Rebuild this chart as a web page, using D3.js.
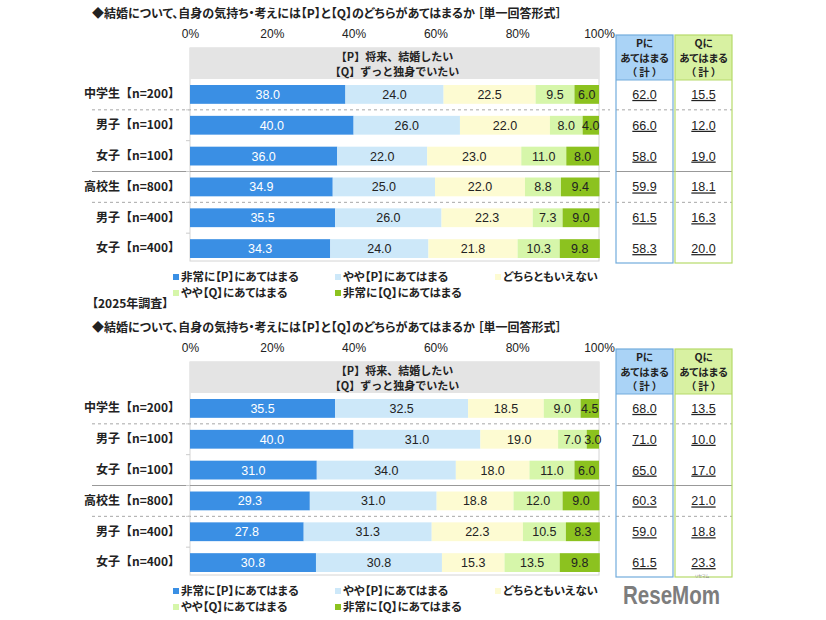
<!DOCTYPE html>
<html lang='ja'>
  <head>
    <meta charset='utf-8'>
    <style type='text/css'>
      body { margin: 0; background-color: #fff; }
      #chart { width: 826px; height: 620px; }
      text { font-family: 'Noto Sans CJK JP', sans-serif; font-feature-settings: "palt"; }
      text.wide { font-feature-settings: normal; }
      .num { font-family: 'Liberation Sans', Arial, sans-serif; }
    </style>
  </head>
  <body>
    <div id='chart'><svg width='826' height='620'></svg></div>

    <script src='https://d3js.org/d3.v7.min.js'></script>
    <script type='text/javascript'>
        // ---- data ----
        var categories = ["中学生【n=200】", "男子【n=100】", "女子【n=100】", "高校生【n=800】", "男子【n=400】", "女子【n=400】"];
        var seriesNames = ["非常に【P】にあてはまる", "やや【P】にあてはまる", "どちらともいえない", "やや【Q】にあてはまる", "非常に【Q】にあてはまる"];
        var ticks = [0, 20, 40, 60, 80, 100];

        // upper chart (previous survey)
        var prevVeryP     = [38.0, 40.0, 36.0, 34.9, 35.5, 34.3];
        var prevSomewhatP = [24.0, 26.0, 22.0, 25.0, 26.0, 24.0];
        var prevNeither   = [22.5, 22.0, 23.0, 22.0, 22.3, 21.8];
        var prevSomewhatQ = [9.5, 8.0, 11.0, 8.8, 7.3, 10.3];
        var prevVeryQ     = [6.0, 4.0, 8.0, 9.4, 9.0, 9.8];
        var prevPTotal    = [62.0, 66.0, 58.0, 59.9, 61.5, 58.3];
        var prevQTotal    = [15.5, 12.0, 19.0, 18.1, 16.3, 20.0];

        // lower chart (2025 survey)
        var veryP     = [35.5, 40.0, 31.0, 29.3, 27.8, 30.8];
        var somewhatP = [32.5, 31.0, 34.0, 31.0, 31.3, 30.8];
        var neither   = [18.5, 19.0, 18.0, 18.8, 22.3, 15.3];
        var somewhatQ = [9.0, 7.0, 11.0, 12.0, 10.5, 13.5];
        var veryQ     = [4.5, 3.0, 6.0, 9.0, 8.3, 9.8];
        var pTotal    = [68.0, 71.0, 65.0, 60.3, 59.0, 61.5];
        var qTotal    = [13.5, 10.0, 17.0, 21.0, 18.8, 23.3];

        var colors = ["#3a8fe4", "#cde8f9", "#fdfbd2", "#d6f6aa", "#8cc21f"];
        var textColors = ["#fff", "#222", "#222", "#222", "#222"];

        var svg = d3.select("#chart svg");

        var x = d3.scaleLinear().domain([0, 100]).range([190, 599]);

        function drawPanel(off, rows, pTot, qTot) {
            var g = svg.append("g").attr("transform", "translate(0," + off + ")");

            // title
            g.append("text").attr("x", 92).attr("y", 18)
                .attr("font-size", 12).attr("font-weight", "bold").attr("fill", "#222")
                .text("◆結婚について、自身の気持ち・考えには【P】と【Q】のどちらがあてはまるか ［単一回答形式］");

            var y = d3.scaleBand().domain(categories).range([79, 264])
                .paddingInner(0.39).paddingOuter(0.195);

            // frame and header
            g.append("rect").attr("x", x(0)).attr("y", 48).attr("width", x(100) - x(0)).attr("height", 213)
                .attr("fill", "#fff").attr("stroke", "#d4d4d4");
            g.append("rect").attr("x", x(0)).attr("y", 48).attr("width", x(100) - x(0)).attr("height", 31)
                .attr("fill", "#e4e4e4");
            g.append("text").attr("class", "wide").attr("x", (x(0) + x(100)) / 2).attr("y", 61).attr("text-anchor", "middle")
                .attr("font-size", 11).attr("font-weight", "bold").attr("fill", "#222").text("【P】将来、結婚したい");
            g.append("text").attr("class", "wide").attr("x", (x(0) + x(100)) / 2).attr("y", 76).attr("text-anchor", "middle")
                .attr("font-size", 11).attr("font-weight", "bold").attr("fill", "#222").text("【Q】ずっと独身でいたい");

            // percent axis
            var ax = g.append("g").attr("transform", "translate(0,30)")
                .call(d3.axisTop(x).tickValues(ticks).tickSize(0).tickPadding(0).tickFormat(function(d) { return d + "%"; }));
            ax.select(".domain").remove();
            ax.selectAll("text").attr("class", "num").attr("font-size", 12).attr("fill", "#222").attr("dy", "0.7em");

            // category axis
            var ay = g.append("g").attr("transform", "translate(" + x(0) + ",0)")
                .call(d3.axisLeft(y).tickSize(0).tickPadding(10));
            ay.select(".domain").remove();
            ay.selectAll("text").attr("class", "wide").attr("font-size", 12).attr("font-weight", "bold").attr("fill", "#222")
                .style("font-family", "'Noto Sans CJK JP', sans-serif");

            // separators
            var step = y.step();
            var seps = [
                {y: y(categories[1]) - (step - y.bandwidth()) / 2, dash: "3,3"},
                {y: y(categories[3]) - (step - y.bandwidth()) / 2, dash: null},
                {y: y(categories[4]) - (step - y.bandwidth()) / 2, dash: "3,3"}
            ];
            seps.forEach(function(s) {
                [[92, 610], [616, 732]].forEach(function(r) {
                    g.append("line").attr("x1", r[0]).attr("x2", r[1]).attr("y1", s.y).attr("y2", s.y)
                        .attr("stroke", s.dash ? "#a8a8a8" : "#999").attr("stroke-dasharray", s.dash);
                });
            });
            // small ticks on the left of the frame
            categories.slice(1).forEach(function(c) {
                var ty = y(c) - (step - y.bandwidth()) / 2;
                g.append("line").attr("x1", x(0) - 4).attr("x2", x(0)).attr("y1", ty).attr("y2", ty).attr("stroke", "#ccc");
            });

            // stacked bars
            var table = categories.map(function(c, i) {
                var o = {cat: c};
                rows.forEach(function(r, k) { o["s" + k] = r[i]; });
                return o;
            });
            var stack = d3.stack().keys(rows.map(function(r, k) { return "s" + k; }));
            var layers = stack(table);

            var lg = g.selectAll(".layer").data(layers).enter().append("g").attr("class", "layer");
            lg.selectAll("rect").data(function(d) { return d; }).enter().append("rect")
                .attr("x", function(d) { return x(d[0]); })
                .attr("y", function(d) { return y(d.data.cat); })
                .attr("width", function(d) { return x(d[1]) - x(d[0]); })
                .attr("height", y.bandwidth())
                .attr("fill", function(d, i, n) { return colors[d3.select(n[i].parentNode).datum().index]; });
            lg.selectAll("text").data(function(d) { return d.map(function(v) { v.k = d.index; return v; }); })
                .enter().append("text")
                .attr("class", "num")
                .attr("x", function(d) { return (x(d[0]) + x(d[1])) / 2; })
                .attr("y", function(d) { return y(d.data.cat) + y.bandwidth() / 2; })
                .attr("dy", "0.36em").attr("text-anchor", "middle").attr("font-size", 12.5)
                .attr("fill", function(d) { return textColors[d.k]; })
                .text(function(d) { return d3.format(".1f")(d[1] - d[0]); });

            // total boxes
            var boxes = [
                {x: 616, vals: pTot, head: "Pに", fill: "#aad3f6", stroke: "#72acdc"},
                {x: 675, vals: qTot, head: "Qに", fill: "#d8f1a2", stroke: "#b6da6a"}
            ];
            boxes.forEach(function(b) {
                g.append("rect").attr("x", b.x).attr("y", 35).attr("width", 57).attr("height", 45)
                    .attr("fill", b.fill);
                g.append("rect").attr("x", b.x).attr("y", 35).attr("width", 57).attr("height", 228)
                    .attr("fill", "none").attr("stroke", b.stroke).attr("stroke-width", 1.2);
                g.append("line").attr("x1", b.x).attr("x2", b.x + 57).attr("y1", 80).attr("y2", 80)
                    .attr("stroke", b.stroke).attr("stroke-width", 1.2);
                var cx = b.x + 28.5;
                [[b.head, 47], ["あてはまる", 62], ["（ 計 ）", 76]].forEach(function(t) {
                    g.append("text").attr("x", cx).attr("y", t[1]).attr("text-anchor", "middle")
                        .attr("font-size", 10.5).attr("font-weight", "bold").attr("fill", "#222").text(t[0]);
                });
                b.vals.forEach(function(v, i) {
                    g.append("text").attr("class", "num").attr("x", cx)
                        .attr("y", y(categories[i]) + y.bandwidth() / 2).attr("dy", "0.36em")
                        .attr("text-anchor", "middle").attr("font-size", 12.5).attr("fill", "#222")
                        .attr("text-decoration", "underline").text(d3.format(".1f")(v));
                });
            });

            // legend
            var legPos = [[173, 277], [335, 277], [495, 277], [173, 293], [335, 293]];
            seriesNames.forEach(function(s, i) {
                g.append("rect").attr("x", legPos[i][0]).attr("y", legPos[i][1] - 3)
                    .attr("width", 6).attr("height", 6).attr("fill", colors[i]);
                g.append("text").attr("x", legPos[i][0] + 8).attr("y", legPos[i][1]).attr("dy", "0.36em")
                    .attr("font-size", 11.5).attr("font-weight", "bold").attr("fill", "#222").text(s);
            });
        }

        drawPanel(0, [prevVeryP, prevSomewhatP, prevNeither, prevSomewhatQ, prevVeryQ], prevPTotal, prevQTotal);

        svg.append("text").attr("x", 92).attr("y", 308)
            .attr("font-size", 12).attr("font-weight", "bold").attr("fill", "#222").text("【2025年調査】");

        drawPanel(314, [veryP, somewhatP, neither, somewhatQ, veryQ], pTotal, qTotal);

        // logo
        svg.append("text").attr("class", "num").attr("x", 623).attr("y", 604)
            .attr("font-size", 26).attr("font-weight", "bold").attr("fill", "#7d7d7d")
            .attr("textLength", 97).attr("lengthAdjust", "spacingAndGlyphs").text("ReseMom");
        svg.append("text").attr("x", 702).attr("y", 578).attr("text-anchor", "middle")
            .attr("font-size", 4).attr("fill", "#888").text("リセマム");
    </script>
  </body>
</html>
